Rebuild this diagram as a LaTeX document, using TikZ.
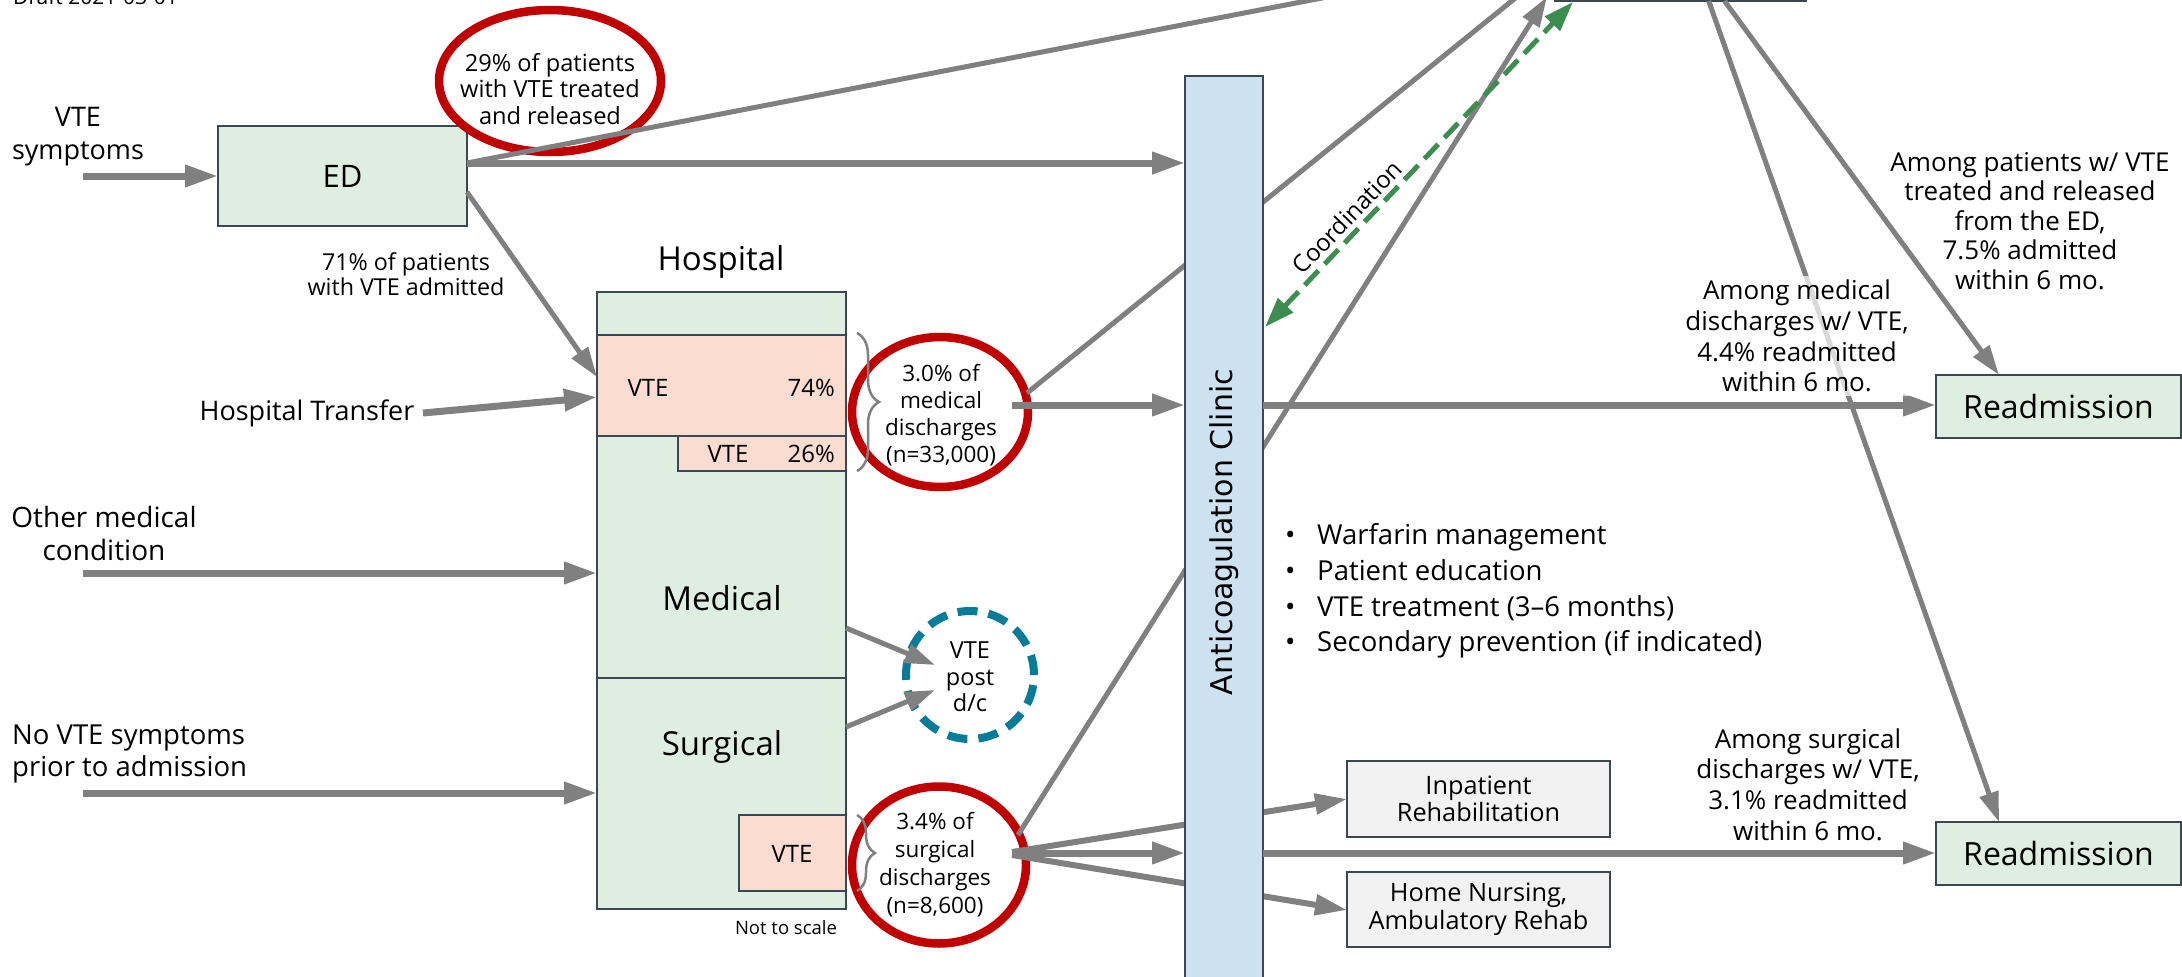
\documentclass[tikz,border=0pt]{standalone}
\usepackage{fontspec}
\setmainfont{Open Sans}
\newfontfamily\clinicfont{DejaVu Sans}
\usetikzlibrary{arrows.meta,decorations.pathreplacing,shapes.geometric}
\definecolor{gfill}{HTML}{DEEEE0}
\definecolor{pfill}{HTML}{FADCD0}
\definecolor{bfill}{HTML}{CCE2F0}
\definecolor{lgfill}{HTML}{F2F2F2}
\definecolor{bord}{HTML}{3B4854}
\definecolor{agray}{HTML}{808080}
\definecolor{cred}{HTML}{C00000}
\definecolor{cgreen}{HTML}{3D8C50}
\definecolor{cteal}{HTML}{077C98}
\newcommand\fsz[2]{\fontsize{#1pt}{#2pt}\selectfont}
\begin{document}
\begin{tikzpicture}[x=1pt,y=-1pt,
  rbox/.style={draw=bord,line width=2.5pt,inner sep=0pt,outer sep=0pt},
  fat/.style={draw=agray,line width=7pt,-{Triangle[length=33pt,width=21pt]}},
  midarrow/.style={draw=agray,line width=6pt,-{Triangle[length=32pt,width=20pt]}},
  slim/.style={draw=agray,line width=5pt,-{Triangle[length=30pt,width=19pt]}},
  ring/.style={ellipse,draw=cred,line width=8.5pt,fill=white,inner sep=0pt,outer sep=0pt},
  txt/.style={inner sep=0pt,align=center,text=black},
]
\useasboundingbox (0,0) rectangle (2182,977);
\clip (0,0) rectangle (2182,977);
\fill[white] (0,0) rectangle (2182,977);

% draft note
\node[anchor=base west,inner sep=0pt,font=\fsz{21}{25}] (draft) at (13,5) {Draft 2021-03-01};

% ED
\node[rbox,fill=gfill,minimum width=249pt,minimum height=100pt,font=\fsz{31}{36}] (ed) at (342.5,176) {ED};
\node[txt,font=\fsz{27}{33}] (vtesym) at (78,137) {VTE\\symptoms};
\coordinate (vtesymo) at (83,176);
\draw[fat] (vtesymo) -- (ed.west);

% Hospital
\node[txt,font=\fsz{33}{38}] (hosptitle) at (721,262) {Hospital};
\node[rbox,fill=gfill,minimum width=249pt,minimum height=617pt] (hosp) at (721.5,600.5) {};
\node[rbox,line width=2pt,fill=pfill,minimum width=249pt,minimum height=101pt] (vte74) at (721.5,385.5) {};
\node[rbox,line width=2pt,fill=pfill,minimum width=168pt,minimum height=35pt] (vte26) at (762,453.5) {};
\node[rbox,line width=2pt,fill=pfill,minimum width=107pt,minimum height=76pt] (vtes) at (792.5,853) {};
\draw[draw=bord,line width=2pt] (hosp.west |- vte74.south) ++(0,242) -- ++(249,0);
\draw[draw=bord,line width=2.5pt] (hosp.north west) rectangle (hosp.south east);
\node[txt,font=\fsz{24}{28}] (t74a) at (648,388) {VTE};
\node[txt,anchor=east,font=\fsz{24}{28}] (t74b) at (835,388) {74\%};
\node[txt,font=\fsz{24}{28}] (t26a) at (728,454) {VTE};
\node[txt,anchor=east,font=\fsz{24}{28}] (t26b) at (835,454) {26\%};
\node[txt,font=\fsz{24}{28}] (tvs) at (792,854) {VTE};
\node[txt,font=\fsz{33}{38}] (tmed) at (722,598) {Medical};
\node[txt,font=\fsz{33}{38}] (tsurg) at (722,747) {Surgical};
\node[txt,font=\fsz{18.5}{22}] (nts) at (786,928) {Not to scale};

% inputs
\node[txt,font=\fsz{23.3}{25.5}] (t71) at (406,274) {71\% of patients\\with VTE admitted};
\node[txt,font=\fsz{27}{32}] (ttrans) at (307,413) {Hospital Transfer};
\node[txt,font=\fsz{28}{33}] (tother) at (104,533) {Other medical\\condition};
\node[txt,align=left,anchor=west,font=\fsz{27.5}{32}] (tnovte) at (12,754) {No VTE symptoms\\prior to admission};
\coordinate (edA) at (467,163);
\coordinate (edB) at (467,192);
\coordinate (hospA) at (597,377);
\coordinate (transo) at (423,413);
\coordinate (hospB) at (597,397);
\coordinate (othero) at (83,573);
\coordinate (novteo) at (83,793);
\draw[slim] (edB) -- (hospA);
\draw[fat] (transo) -- (hospB);
\draw[fat] (othero) -- (othero -| hosp.west);
\draw[fat] (novteo) -- (novteo -| hosp.west);

% rings
\node[ring,minimum width=222pt,minimum height=142pt] (c29) at (550,81) {};
\node[ring,minimum width=176pt,minimum height=150pt] (c30) at (940,412) {};
\node[ring,minimum width=174pt,minimum height=157pt] (c34) at (939,865) {};
\node[circle,draw=cteal,line width=8pt,dash pattern=on 20pt off 11pt,fill=white,minimum size=128pt,inner sep=0pt] (vpost) at (970,675) {};
\draw[agray,line width=2.5pt,decorate,decoration={brace,amplitude=22pt}] (857,333) -- (857,471);
\draw[agray,line width=2.5pt,decorate,decoration={brace,amplitude=18pt}] (857,815) -- (857,891);
\node[txt,font=\fsz{23.6}{26.5}] (c29t) at (550,89) {29\% of patients\\with VTE treated\\and released};
\node[txt,font=\fsz{22.5}{27}] (c30t) at (941,415) {3.0\% of\\medical\\discharges\\(n=33,000)};
\node[txt,font=\fsz{22.5}{28}] (c34t) at (935,865) {3.4\% of\\surgical\\discharges\\(n=8,600)};
\node[txt,font=\fsz{23.5}{26.5}] (vpostt) at (970,677) {VTE\\post\\d/c};
\coordinate (medo) at (846,628);
\coordinate (surgo) at (846,727);
\coordinate (vpA) at (935,665);
\coordinate (vpB) at (935,690);
\draw[slim] (medo) -- (vpA);
\draw[slim] (surgo) -- (vpB);

% lines passing behind the clinic
\coordinate (c30o) at (1027,393);
\coordinate (c34o) at (1018,835);
\coordinate (c34p) at (1012,852);
\coordinate (c34q) at (1012,855);
\coordinate (topA) at (1555,-34);
\coordinate (topB) at (1547,-3);
\coordinate (topC) at (1555,-47);
\coordinate (inpA) at (1347,799);
\coordinate (homeA) at (1347,910);
\draw[slim] (c30o) -- (topA);
\draw[slim] (c34o) -- (topB);
\draw[midarrow] (c34p) -- (inpA);
\draw[midarrow] (c34q) -- (homeA);

% clinic
\node[rbox,line width=2pt,fill=bfill,minimum width=78pt,minimum height=934pt] (clinic) at (1224,543) {};
\node[rotate=90,inner sep=0pt,font=\clinicfont\fsz{30}{36}] (clinict) at (1224,532) {Anticoagulation Clinic};

% main arrows
\draw[slim] (edA) -- (topC);
\draw[fat] (edA) -- (edA -| clinic.west);
\coordinate (c30r) at (1012,405);
\coordinate (c34r) at (1012,853);
\draw[fat] (c30r) -- (c30r -| clinic.west);
\draw[fat] (c34r) -- (c34r -| clinic.west);

% readmission boxes
\node[rbox,fill=gfill,minimum width=245pt,minimum height=63pt,font=\fsz{32}{36}] (readm1) at (2058.5,406.5) {Readmission};
\node[rbox,fill=gfill,minimum width=245pt,minimum height=63pt,font=\fsz{32}{36}] (readm2) at (2058.5,853.5) {Readmission};
\coordinate (clA) at (1263,405);
\coordinate (clB) at (1263,853);
\draw[fat] (clA) -- (clA -| readm1.west);
\draw[fat] (clB) -- (clB -| readm2.west);

% inpatient / home
\node[rbox,line width=2pt,fill=lgfill,minimum width=263pt,minimum height=76pt,align=center,font=\fsz{25.3}{26.5}] (inpat) at (1478.5,799) {Inpatient\\Rehabilitation};
\node[rbox,line width=2pt,fill=lgfill,minimum width=263pt,minimum height=75pt,align=center,font=\fsz{25.3}{28}] (home) at (1478.5,909.5) {Home Nursing,\\Ambulatory Rehab};

% bullets
\node[txt,align=left,anchor=west,font=\fsz{27.5}{35.7}] (bul) at (1285,591) {\makebox[32pt][l]{•}Warfarin management\\\makebox[32pt][l]{•}Patient education\\\makebox[32pt][l]{•}VTE treatment (3--6 months)\\\makebox[32pt][l]{•}Secondary prevention (if indicated)};

% coordination
\coordinate (clinG) at (1265,327);
\coordinate (topG) at (1573,2);
\draw[cgreen,line width=5pt,dash pattern=on 20pt off 9pt,{Triangle[length=30pt,width=20pt]}-{Triangle[length=30pt,width=20pt]}] (clinG) -- (topG);
\node[txt,rotate=46,font=\fsz{24}{28}] (coord) at (1347,217) {Coordination};

% top box and its outputs
\node[rbox,fill=white,minimum width=251pt,minimum height=91pt] (topbox) at (1680.5,-44.5) {};
\coordinate (topR1) at (1724.5,1);
\coordinate (topR2) at (1708.7,1);
\coordinate (r1in) at (1999,375);
\coordinate (r2in) at (1999,822);
\draw[slim] (topR1) -- (r1in);
\draw[slim] (topR2) -- (r2in);

% annotations
\node[txt,font=\fsz{26}{29.5}] (am1) at (2030,221) {Among patients w/ VTE\\treated and released\\from the ED,\\7.5\% admitted\\within 6 mo.};
\node[txt,fill=white,fill opacity=0.7,text opacity=1,inner sep=4pt,font=\fsz{26}{30.7}] (am2) at (1797,336) {Among medical\\discharges w/ VTE,\\4.4\% readmitted\\within 6 mo.};
\node[txt,font=\fsz{26}{30.7}] (am3) at (1808,784.5) {Among surgical\\discharges w/ VTE,\\3.1\% readmitted\\within 6 mo.};
\end{tikzpicture}
\end{document}
